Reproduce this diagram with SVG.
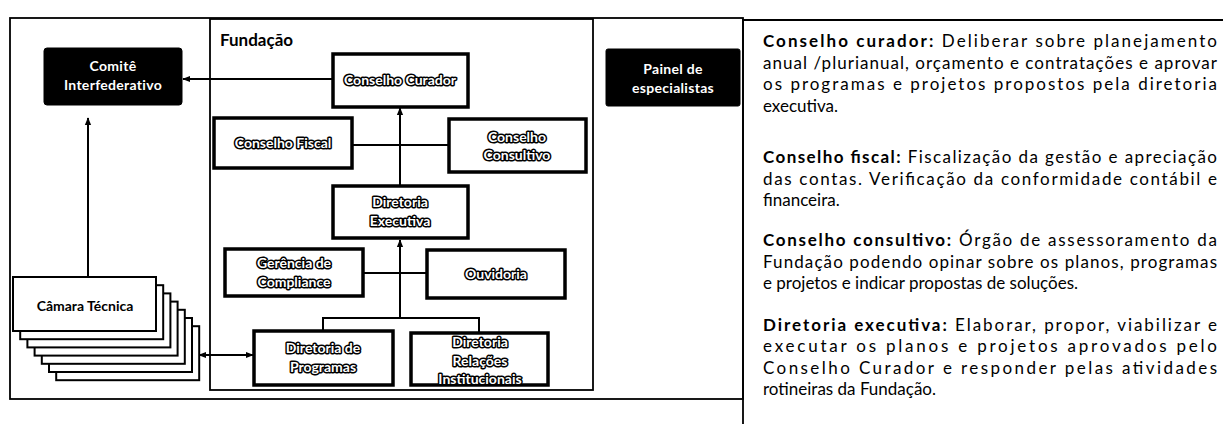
<svg xmlns="http://www.w3.org/2000/svg" width="1223" height="424" viewBox="0 0 1223 424">
<defs>
<marker id="ah" viewBox="0 0 10 10" refX="9" refY="5" markerWidth="8" markerHeight="8" markerUnits="userSpaceOnUse" orient="auto-start-reverse">
<path d="M0,1 L10,5 L0,9 z" fill="#000"/>
</marker>
<style>
.frame{fill:none;stroke:#000;stroke-width:1.8}
.box{fill:#fff;stroke:#000;stroke-width:3.5}
.stack{fill:#fff;stroke:#000;stroke-width:2}
.dark{fill:#000;stroke:#000;stroke-width:1}
.lbl{font-family:Lato,"Open Sans",sans-serif;font-weight:700;font-size:14px;text-anchor:middle;fill:#fff;stroke:#000;stroke-width:3;paint-order:stroke fill;stroke-linejoin:round}
.wl{font-family:Lato,"Open Sans",sans-serif;font-weight:700;font-size:14px;text-anchor:middle;fill:#fff;letter-spacing:0.3px}
.bl{font-family:Lato,"Open Sans",sans-serif;font-weight:700;font-size:14px;text-anchor:middle;fill:#000}
.title{font-family:Lato,"Open Sans",sans-serif;font-weight:700;font-size:17px;fill:#000}
.con{fill:none;stroke:#000;stroke-width:2}
.desc{font-family:Lato,"Open Sans",sans-serif;font-size:17px;fill:#000}
.b{font-weight:700}
</style>
</defs>

<g id="frames">
<rect class="frame" x="10" y="18" width="733" height="381"/>
<polyline class="frame" points="743,424 743,20 1223,20" stroke-width="2.2"/>
<rect class="frame" x="210" y="19" width="383" height="371" stroke-width="2"/>
<text class="title" x="220" y="46">Fundação</text>
</g>

<g id="connectors">
<line class="con" x1="333" y1="79" x2="183" y2="79" marker-end="url(#ah)"/>
<line class="con" x1="352" y1="145" x2="449" y2="145"/>
<line class="con" x1="400" y1="186" x2="400" y2="108" marker-end="url(#ah)"/>
<line class="con" x1="400" y1="318" x2="400" y2="240" marker-end="url(#ah)"/>
<line class="con" x1="363" y1="273" x2="427" y2="273" stroke-width="1.6"/>
<polyline class="con" points="323,331 323,318 479,318 479,333"/>
<line class="con" x1="88" y1="277" x2="88" y2="118" marker-end="url(#ah)"/>
<line class="con" x1="199" y1="355" x2="253" y2="355" marker-start="url(#ah)" marker-end="url(#ah)"/>
</g>

<g id="comite">
<rect class="dark" x="44" y="48" width="138" height="57" rx="3"/>
<text class="wl" x="113" y="71">Comitê</text>
<text class="wl" x="113" y="90">Interfederativo</text>
</g>

<g id="painel">
<rect class="dark" x="606" y="49" width="134" height="57" rx="2"/>
<text class="wl" x="673" y="74">Painel de</text>
<text class="wl" x="673" y="93">especialistas</text>
</g>

<g id="conselho-curador">
<rect class="box" x="333" y="54" width="135" height="53"/>
<text class="lbl" x="400" y="85">Conselho Curador</text>
</g>

<g id="conselho-fiscal">
<rect class="box" x="214" y="118" width="138" height="50"/>
<text class="lbl" x="283" y="148">Conselho Fiscal</text>
</g>

<g id="conselho-consultivo">
<rect class="box" x="449" y="119" width="137" height="53"/>
<text class="lbl" x="517" y="142">Conselho</text>
<text class="lbl" x="517" y="160">Consultivo</text>
</g>

<g id="diretoria-executiva">
<rect class="box" x="333" y="186" width="135" height="52"/>
<text class="lbl" x="400" y="207">Diretoria</text>
<text class="lbl" x="400" y="226">Executiva</text>
</g>

<g id="gerencia-compliance">
<rect class="box" x="225" y="249" width="138" height="47"/>
<text class="lbl" x="294" y="268">Gerência de</text>
<text class="lbl" x="294" y="287">Compliance</text>
</g>

<g id="ouvidoria">
<rect class="box" x="427" y="250" width="138" height="48"/>
<text class="lbl" x="496" y="279">Ouvidoria</text>
</g>

<g id="diretoria-programas">
<rect class="box" x="254" y="331" width="139" height="54"/>
<text class="lbl" x="323" y="353">Diretoria de</text>
<text class="lbl" x="323" y="372">Programas</text>
</g>

<g id="diretoria-relacoes">
<rect class="box" x="411" y="333" width="137" height="52"/>
<text class="lbl" x="480" y="347">Diretoria</text>
<text class="lbl" x="480" y="366">Relações</text>
<text class="lbl" x="480" y="384">Institucionais</text>
</g>

<g id="camara-tecnica">
<rect class="stack" x="56.2" y="326.2" width="143" height="54"/>
<rect class="stack" x="49" y="318" width="143" height="54"/>
<rect class="stack" x="41.8" y="309.8" width="143" height="54"/>
<rect class="stack" x="34.6" y="301.6" width="143" height="54"/>
<rect class="stack" x="27.4" y="293.4" width="143" height="54"/>
<rect class="stack" x="20.2" y="285.2" width="143" height="54"/>
<rect class="stack" x="13" y="277" width="143" height="54"/>
<text class="bl" x="85" y="311">Câmara Técnica</text>
</g>

<g id="descricoes" class="desc">
<text x="763" y="47" textLength="454" lengthAdjust="spacing"><tspan class="b">Conselho curador:</tspan> Deliberar sobre planejamento</text>
<text x="763" y="68.5" textLength="454" lengthAdjust="spacing">anual /plurianual, orçamento e contratações e aprovar</text>
<text x="763" y="90" textLength="454" lengthAdjust="spacing">os programas e projetos propostos pela diretoria</text>
<text x="763" y="111.5">executiva.</text>

<text x="763" y="163" textLength="454" lengthAdjust="spacing"><tspan class="b">Conselho fiscal:</tspan> Fiscalização da gestão e apreciação</text>
<text x="763" y="184.5" textLength="454" lengthAdjust="spacing">das contas. Verificação da conformidade contábil e</text>
<text x="763" y="206">financeira.</text>

<text x="763" y="246" textLength="454" lengthAdjust="spacing"><tspan class="b">Conselho consultivo:</tspan> Órgão de assessoramento da</text>
<text x="763" y="267.5" textLength="454" lengthAdjust="spacing">Fundação podendo opinar sobre os planos, programas</text>
<text x="763" y="289">e projetos e indicar propostas de soluções.</text>

<text x="763" y="330.5" textLength="454" lengthAdjust="spacing"><tspan class="b">Diretoria executiva:</tspan> Elaborar, propor, viabilizar e</text>
<text x="763" y="352" textLength="454" lengthAdjust="spacing">executar os planos e projetos aprovados pelo</text>
<text x="763" y="373.5" textLength="454" lengthAdjust="spacing">Conselho Curador e responder pelas atividades</text>
<text x="763" y="395">rotineiras da Fundação.</text>
</g>
</svg>
